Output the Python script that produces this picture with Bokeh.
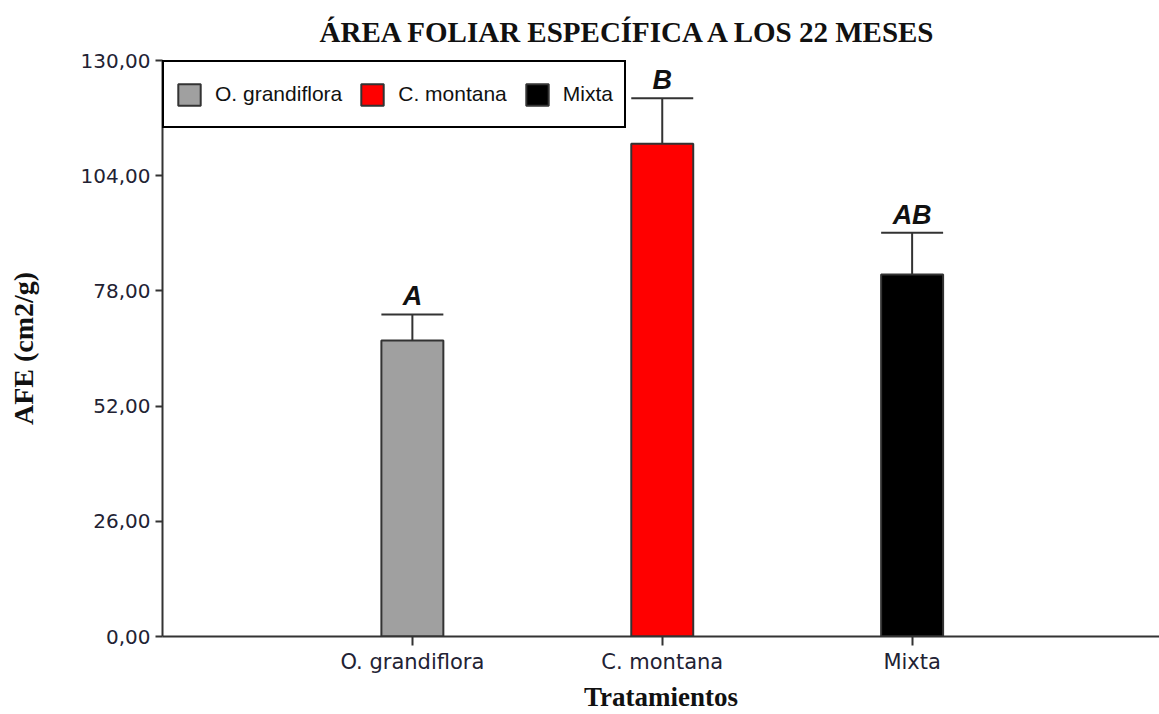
from bokeh.plotting import figure
from bokeh.models import ColumnDataSource, Range1d, FixedTicker
from bokeh.core.properties import value
from bokeh.embed import file_html
from bokeh.resources import INLINE

# ---- data ----
categories = ["O. grandiflora", "C. montana", "Mixta"]
means = [66.8, 111.2, 81.7]
errors = [5.9, 10.3, 9.4]
letters = ["A", "B", "AB"]
colors = ["#A0A0A0", "#FF0000", "#000000"]
y_ticks = [0, 26, 52, 78, 104, 130]
y_tick_labels = ["0,00", "26,00", "52,00", "78,00", "104,00", "130,00"]
title_text = "ÁREA FOLIAR ESPECÍFICA  A LOS 22 MESES"
x_label = "Tratamientos"
y_label = "AFE (cm2/g)"

BAR_W = 0.248
xs = [i + 1 for i in range(len(categories))]
tops = [m + e for m, e in zip(means, errors)]

src = ColumnDataSource(dict(
    x=xs, cat=categories, mean=means, top=tops, color=colors, letter=letters,
    cap0=[x - BAR_W / 2 for x in xs], cap1=[x + BAR_W / 2 for x in xs],
))

p = figure(width=1159, height=714, x_range=Range1d(0, 3.99), y_range=Range1d(0, 130),
           output_backend="svg", toolbar_location=None,
           min_border_left=162, min_border_right=0, min_border_top=60, min_border_bottom=76)
p.grid.visible = False
p.outline_line_color = None
p.background_fill_color = "white"

# bars
p.vbar(x="x", top="mean", bottom=0, width=BAR_W, source=src, fill_color="color",
       line_color="#333333", line_width=2, legend_field="cat")

# error bars (stem + cap)
p.segment(x0="x", y0="mean", x1="x", y1="top", source=src, line_color="#333333", line_width=2)
p.segment(x0="cap0", y0="top", x1="cap1", y1="top", source=src, line_color="#333333", line_width=2)

# significance letters
p.text(x="x", y="top", text="letter", source=src, text_font=value("Liberation Sans"),
       text_font_style="bold italic", text_font_size="27px", text_align="center",
       text_baseline="alphabetic", y_offset=-18, text_color="#111111")

# title
p.title.text = title_text
p.title.text_font = "Liberation Serif"
p.title.text_font_style = "bold"
p.title.text_font_size = "29px"
p.title.align = "left"
p.title.offset = 157
p.title.standoff = 26
p.title.text_color = "#111111"

# axes
for ax in (p.xaxis[0], p.yaxis[0]):
    ax.axis_line_color = "#333333"
    ax.axis_line_width = 2
    ax.major_tick_line_color = "#333333"
    ax.major_tick_line_width = 2
    ax.major_tick_in = 0
    ax.minor_tick_line_color = None
    ax.major_label_text_font = "DejaVu Sans"
    ax.major_label_text_font_size = "20px"
    ax.major_label_text_color = "#222233"
    ax.axis_label_text_font = "Liberation Serif"
    ax.axis_label_text_font_style = "bold"
    ax.axis_label_text_color = "#111111"

p.xaxis.ticker = FixedTicker(ticks=xs)
p.xaxis.major_label_overrides = {x: c for x, c in zip(xs, categories)}
p.xaxis.major_label_text_font_size = "21px"
p.xaxis.major_tick_out = 9
p.xaxis.major_label_standoff = 4
p.xaxis.axis_label = x_label
p.xaxis.axis_label_text_font_size = "27px"
p.xaxis.axis_label_standoff = 5

p.yaxis.ticker = FixedTicker(ticks=y_ticks)
p.yaxis.major_label_overrides = {t: l for t, l in zip(y_ticks, y_tick_labels)}
p.yaxis.major_tick_out = 7
p.yaxis.major_label_standoff = 5
p.yaxis.axis_label = y_label
p.yaxis.axis_label_text_font_size = "28px"
p.yaxis.axis_label_standoff = 39

# legend
lg = p.legend[0]
lg.location = "top_left"
lg.orientation = "horizontal"
lg.margin = 0
lg.padding = 11
lg.spacing = 16
lg.glyph_width = 28
lg.glyph_height = 27
lg.label_height = 42
lg.label_standoff = 12
lg.label_text_font = "Liberation Sans"
lg.label_text_font_size = "21px"
lg.label_text_color = "#111111"
lg.border_line_color = "black"
lg.border_line_width = 2
lg.border_line_alpha = 1
lg.background_fill_alpha = 1

open("out.html", "w").write(file_html(p, INLINE))
